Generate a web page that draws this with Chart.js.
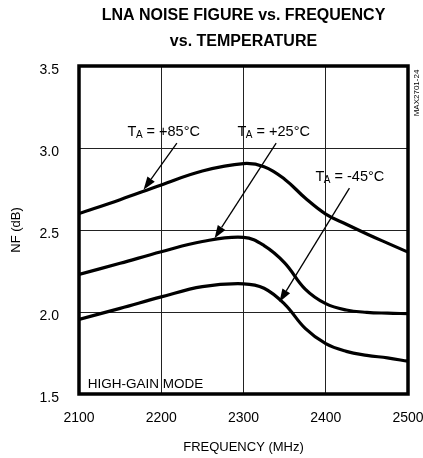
<!DOCTYPE html>
<html>
<head>
<meta charset="utf-8">
<script src="https://cdn.jsdelivr.net/npm/chart.js@4.4.0/dist/chart.umd.min.js"></script>
<style>
html,body{margin:0;padding:0;background:#fff;}
#wrap{width:423px;height:458px;position:relative;}
</style>
</head>
<body>
<div id="wrap"><canvas id="c" width="423" height="458"></canvas></div>
<script>
// ---- data ----
const freqs = [2100, 2150, 2200, 2250, 2300, 2325, 2350, 2375, 2400, 2425, 2450, 2475, 2500];
const nf85  = [2.60, 2.685, 2.775, 2.86, 2.905, 2.886, 2.81, 2.695, 2.597, 2.535, 2.476, 2.42, 2.365];
const nf25  = [2.229, 2.297, 2.367, 2.43, 2.455, 2.405, 2.30, 2.14, 2.051, 2.012, 1.998, 1.993, 1.99];
const nfm45 = [1.955, 2.022, 2.092, 2.155, 2.172, 2.145, 2.048, 1.90, 1.807, 1.76, 1.736, 1.72, 1.70];
const xTicks = [2100, 2200, 2300, 2400, 2500];
const yTicks = [1.5, 2.0, 2.5, 3.0, 3.5];
const titleLines = ['LNA NOISE FIGURE vs. FREQUENCY', 'vs. TEMPERATURE'];
const xTitle = 'FREQUENCY (MHz)';
const yTitle = 'NF (dB)';
// labels: [main, subscript, rest, textX, textY, arrowFromX, arrowFromY, arrowToX, arrowToY]
const seriesLabels = [
  ['T', 'A', ' = +85°C', 2159, 3.10, 2219, 3.03, 2178.5, 2.745],
  ['T', 'A', ' = +25°C', 2292.7, 3.10, 2339.7, 3.03, 2264.8, 2.449],
  ['T', 'A', ' = -45°C', 2387.5, 2.826, 2428.8, 2.755, 2343.7, 2.061]
];
const modeLabel = ['HIGH-GAIN MODE', 2110.5, 1.561];
const partLabel = 'MAX2701-24';

const FONT = '"Liberation Sans", Arial, Helvetica, sans-serif';

function pts(ys){ return freqs.map((f,i)=>({x:f, y:ys[i]})); }
function ds(ys){
  return {data: pts(ys), borderColor:'#000', borderWidth:3.2, pointRadius:0,
          fill:false, tension:0.4};
}

const decor = {
  id:'decor',
  afterDraw(chart){
    const {ctx, chartArea:a, scales:{x, y}} = chart;
    ctx.save();
    // frame
    ctx.strokeStyle = '#000';
    ctx.lineWidth = 3.5;
    ctx.strokeRect(a.left, a.top, a.right - a.left, a.bottom - a.top);
    // title
    ctx.fillStyle = '#000';
    ctx.textAlign = 'center';
    ctx.textBaseline = 'middle';
    ctx.font = 'bold 16px ' + FONT;
    const cx = (a.left + a.right) / 2;
    ctx.fillText(titleLines[0], cx, 16);
    ctx.fillText(titleLines[1], cx, 42);
    // series labels and arrows
    ctx.textAlign = 'left';
    seriesLabels.forEach(l => {
      let tx = x.getPixelForValue(l[3]);
      const ty = y.getPixelForValue(l[4]);
      ctx.font = '14.5px ' + FONT;
      ctx.fillText(l[0], tx, ty);
      tx += ctx.measureText(l[0]).width - 0.5;
      ctx.font = '10px ' + FONT;
      ctx.fillText(l[1], tx, ty + 4);
      tx += ctx.measureText(l[1]).width;
      ctx.font = '14.5px ' + FONT;
      ctx.fillText(l[2], tx, ty);
      const x1 = x.getPixelForValue(l[5]), y1 = y.getPixelForValue(l[6]);
      const x2 = x.getPixelForValue(l[7]), y2 = y.getPixelForValue(l[8]);
      const ang = Math.atan2(y2 - y1, x2 - x1);
      const hl = 13, hw = 4.5;
      const bx = x2 - hl*Math.cos(ang), by = y2 - hl*Math.sin(ang);
      ctx.lineWidth = 1.3;
      ctx.beginPath(); ctx.moveTo(x1, y1); ctx.lineTo(bx, by); ctx.stroke();
      ctx.beginPath();
      ctx.moveTo(x2, y2);
      ctx.lineTo(bx + hw*Math.sin(ang), by - hw*Math.cos(ang));
      ctx.lineTo(bx - hw*Math.sin(ang), by + hw*Math.cos(ang));
      ctx.closePath(); ctx.fill();
    });
    // mode label
    ctx.font = '13.5px ' + FONT;
    ctx.fillText(modeLabel[0], x.getPixelForValue(modeLabel[1]), y.getPixelForValue(modeLabel[2]));
    // part number
    ctx.translate(a.right + 9, a.top + 27);
    ctx.rotate(-Math.PI/2);
    ctx.textAlign = 'center';
    ctx.font = '8px ' + FONT;
    ctx.fillText(partLabel, 0, 0);
    ctx.restore();
  }
};

new Chart(document.getElementById('c'), {
  type:'line',
  data:{ datasets:[ds(nf85), ds(nf25), ds(nfm45)] },
  options:{
    responsive:false, animation:false, devicePixelRatio:1,
    layout:{ padding:{ top:66, right:15, left:0, bottom:0 } },
    plugins:{ legend:{display:false}, tooltip:{enabled:false}, title:{display:false} },
    scales:{
      x:{
        type:'linear', min:2100, max:2500,
        afterBuildTicks(s){ s.ticks = xTicks.map(v=>({value:v})); },
        afterFit(s){ s.height = 64; s.paddingLeft = 0; s.paddingRight = 0; },
        grid:{ color:'#222', lineWidth:1, drawTicks:false },
        border:{ display:false },
        ticks:{ color:'#000', padding:16, maxRotation:0, font:{family:FONT, size:14},
                callback:v=>String(v) },
        title:{ display:true, text:xTitle, color:'#000', font:{family:FONT, size:13},
                padding:{top:0, bottom:3} }
      },
      y:{
        type:'linear', min:1.5, max:3.5,
        afterBuildTicks(s){ s.ticks = yTicks.map(v=>({value:v})); },
        afterFit(s){ s.width = 79; s.paddingTop = 0; s.paddingBottom = 0; },
        grid:{ color:'#222', lineWidth:1, drawTicks:false },
        border:{ display:false },
        ticks:{ color:'#000', padding:20, labelOffset:4, font:{family:FONT, size:14},
                callback:v=>Number(v).toFixed(1) },
        title:{ display:true, text:yTitle, color:'#000', font:{family:FONT, size:13},
                padding:{top:9, bottom:0} }
      }
    }
  },
  plugins:[decor]
});
</script>
</body>
</html>
